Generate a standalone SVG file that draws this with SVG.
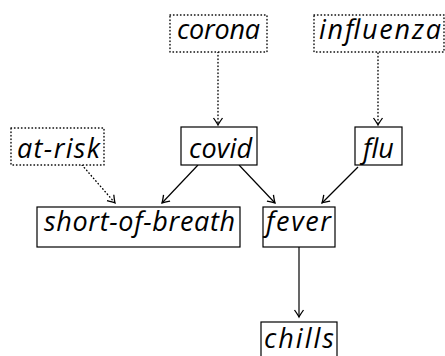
<svg xmlns="http://www.w3.org/2000/svg" width="445" height="356" viewBox="0 0 445 356">
<style>
.box{fill:#fff;stroke:#000;stroke-width:1.2}
.dbox{fill:#fff;stroke:#000;stroke-width:1.4;stroke-dasharray:0.5 3;stroke-linecap:round}
.t{font-family:"Open Sans",sans-serif;font-style:italic;font-size:27px;fill:#000}
.e{fill:none;stroke:#000;stroke-width:1.2}
.d{stroke-width:1.4;stroke-dasharray:0.5 3;stroke-linecap:round}
</style>
<defs>
<marker id="a" viewBox="-10 -6 12 12" refX="0" refY="0" markerWidth="12" markerHeight="12" markerUnits="userSpaceOnUse" orient="auto">
<path d="M-7,-4.5 Q-2,-1 0,0 Q-2,1 -7,4.5" fill="none" stroke="#000" stroke-width="1.3"/>
</marker>
</defs>
<g id="edges">
<line class="e d" x1="218" y1="52" x2="218" y2="125" marker-end="url(#a)"/>
<line class="e d" x1="378" y1="53" x2="378" y2="125" marker-end="url(#a)"/>
<line class="e d" x1="82" y1="165" x2="115" y2="203" marker-end="url(#a)"/>
<line class="e" x1="198" y1="165" x2="162" y2="203" marker-end="url(#a)"/>
<line class="e" x1="239" y1="165" x2="275" y2="203" marker-end="url(#a)"/>
<line class="e" x1="358" y1="167" x2="322" y2="203" marker-end="url(#a)"/>
<line class="e" x1="299" y1="247" x2="299" y2="317" marker-end="url(#a)"/>
</g>
<g id="corona"><rect class="dbox" x="170" y="15" width="97" height="37"/><text class="t" x="177" y="39" textLength="83" lengthAdjust="spacing">corona</text></g>
<g id="influenza"><rect class="dbox" x="314" y="15" width="130" height="37"/><text class="t" x="319" y="39" textLength="122" lengthAdjust="spacing">influenza</text></g>
<g id="at-risk"><rect class="dbox" x="11" y="128" width="93" height="37"/><text class="t" x="17" y="158" textLength="83" lengthAdjust="spacing">at-risk</text></g>
<g id="covid"><rect class="box" x="181" y="127" width="76" height="38"/><text class="t" x="189" y="158" textLength="63" lengthAdjust="spacing">covid</text></g>
<g id="flu"><rect class="box" x="355" y="127" width="47" height="38"/><text class="t" x="378.5" y="158" text-anchor="middle">flu</text></g>
<g id="short-of-breath"><rect class="box" x="37" y="207" width="203" height="40"/><text class="t" x="44" y="231" textLength="191" lengthAdjust="spacing">short-of-breath</text></g>
<g id="fever"><rect class="box" x="263" y="207" width="72" height="40"/><text class="t" x="266" y="231" textLength="65" lengthAdjust="spacing">fever</text></g>
<g id="chills"><rect class="box" x="261" y="322" width="76" height="38"/><text class="t" x="264" y="348" textLength="70" lengthAdjust="spacing">chills</text></g>
</svg>
